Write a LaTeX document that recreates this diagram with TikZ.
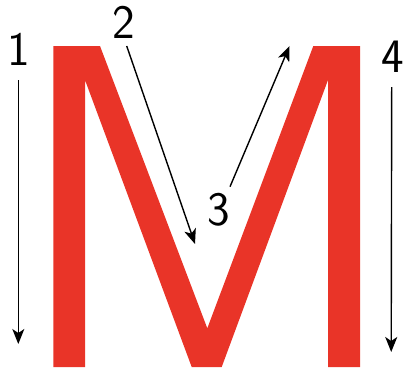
\documentclass[tikz,border=0pt]{standalone}
\usetikzlibrary{arrows.meta}
\definecolor{mred}{RGB}{233,52,40}
\begin{document}
\begin{tikzpicture}[x=1pt,y=-1pt,
  stroke/.style={line width=1.4pt,-{Stealth[length=15pt,width=12pt,inset=4pt]}},
  num/.style={font=\sffamily\fontsize{48}{48}\selectfont,inner sep=0pt}]
\useasboundingbox (0,0) rectangle (406,372);
\fill[mred] (53.3,46) -- (100,46) -- (207.3,328.3) -- (313.3,46) -- (360,46)
  -- (360,367) -- (328,367) -- (328,80) -- (221.7,367) -- (191.7,367)
  -- (85,80) -- (85,367) -- (53.3,367) -- cycle;
\node[num] (n1) at (19,49) {1};
\node[num] (n2) at (123.8,22) {2};
\node[num] (n3) at (219,209.5) {3};
\node[num] (n4) at (392.5,57) {4};
\coordinate (a1s) at (18.3,80);  \coordinate (a1e) at (18.3,344);
\coordinate (a2s) at (126.7,46); \coordinate (a2e) at (195,244);
\coordinate (a3s) at (230,186.7); \coordinate (a3e) at (289.5,46);
\coordinate (a4s) at (391.7,87); \coordinate (a4e) at (391.2,352);
\draw[stroke] (a1s) -- (a1e);
\draw[stroke] (a2s) -- (a2e);
\draw[stroke] (a3s) -- (a3e);
\draw[stroke] (a4s) -- (a4e);
\end{tikzpicture}
\end{document}
